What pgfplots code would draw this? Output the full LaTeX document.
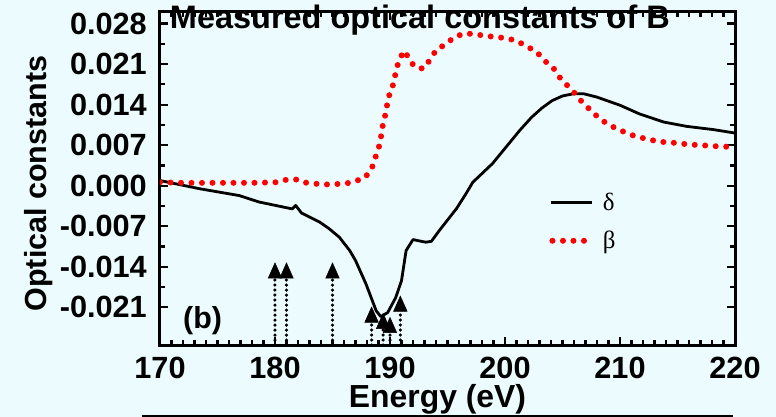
\documentclass[border=0pt]{standalone}
\usepackage{pgfplots}
\pgfplotsset{compat=1.18}
\usepackage{fontspec}
\setmainfont{Liberation Sans}
\newfontfamily\greekfont{Liberation Serif}
\usetikzlibrary{backgrounds}
\definecolor{bgc}{RGB}{236,251,253}
\definecolor{rd}{RGB}{255,0,0}
\newcommand{\tickfont}{\fontsize{30.8}{32}\selectfont\bfseries}
\pgfplotsset{
  deltaleg/.style={legend image code/.code={\draw[##1] (0bp,0bp) -- (41bp,0bp);}},
  betaleg/.style={legend image code/.code={\draw[##1] (1bp,0bp) -- (36bp,0bp);}},
  stem/.style={forget plot, black, line width=3.5bp, line cap=round, dash pattern=on 0bp off 5bp},
}
\begin{document}
\begin{tikzpicture}
\begin{axis}[
  name=ax,
  scale only axis, width=575bp, height=333bp,
  xmin=170, xmax=220, ymin=-0.0275, ymax=0.030,
  xtick={170,180,190,200,210,220},
  ytick={-0.021,-0.014,-0.007,0,0.007,0.014,0.021,0.028},
  minor x tick num=9, minor y tick num=1,
  tick align=inside,
  major tick length=8bp, minor tick length=5bp,
  tick style={black, line width=2.2bp},
  axis line style={line width=3bp},
  scaled y ticks=false,
  /pgf/number format/assume math mode=true,
  y tick label style={/pgf/number format/.cd, fixed, fixed zerofill, precision=3, /tikz/.cd},
  tick label style={font=\tickfont},
  yticklabel style={inner sep=0pt, xshift=-13bp},
  xticklabel style={inner sep=0pt, yshift=-12bp},
  xlabel={Energy (eV)}, ylabel={Optical constants},
  xlabel style={at={(axis description cs:0.4826,-0.189)}, anchor=base, font=\fontsize{32}{34}\selectfont\bfseries},
  ylabel style={at={(axis description cs:-0.197,0.485)}, anchor=base, font=\fontsize{30.6}{32}\selectfont\bfseries},
  title={Measured optical constants of B},
  title style={at={(axis description cs:0.017,0.931)}, anchor=base west, yshift=0pt, inner sep=0pt, font=\fontsize{32.6}{34}\selectfont\bfseries},
  legend style={at={(axis description cs:0.677,0.462)}, anchor=north west, draw=none, fill=none, inner sep=0pt,
     font=\fontsize{25}{27}\selectfont\greekfont, row sep=15bp, column sep=7bp, nodes={inner sep=2bp}},
  legend cell align=left,
]
\addplot[black, line width=2.8bp, line join=round, deltaleg] coordinates {
(170,0.0009) (173.4,-0.0005) (176.9,-0.0017) (178.6,-0.0028) (181.5,-0.0040) (181.8,-0.0034) (182.3,-0.0047) (183.9,-0.0063) (184.7,-0.0074) (185.6,-0.0089) (186.5,-0.0112) (187.0,-0.0129) (187.9,-0.0169) (188.8,-0.0216) (189.2,-0.0226) (189.8,-0.0219) (190.5,-0.0193) (191.0,-0.0164) (191.4,-0.0112) (192.0,-0.0093) (193.1,-0.00975) (193.6,-0.0096) (194.3,-0.0077) (195.8,-0.0039) (196.6,-0.0014) (197.2,0.0006) (198.9,0.0038) (200.1,0.0067) (201.3,0.0096) (202.3,0.0118) (203.2,0.0134) (204.1,0.0147) (205.0,0.0155) (206.0,0.0159) (206.8,0.0159) (208.0,0.0153) (210.0,0.0139) (211.7,0.0124) (213.8,0.0110) (215.8,0.01025) (218.1,0.0097) (220,0.0091)
};
\addlegendentry{δ}
\addplot[rd, line width=6bp, line cap=round, dash pattern=on 0bp off 10.5bp, betaleg] coordinates {
(170,0.0006) (172,0.0005) (174,0.0005) (176,0.0005) (178,0.0005) (180.1,0.0006) (180.9,0.0010) (181.8,0.0011) (182.4,0.0006) (184.2,0.0002) (186.1,0.00035) (186.9,0.00074) (187.8,0.00135) (188.4,0.0029) (188.7,0.0047) (189.0,0.0064) (189.2,0.0081) (189.3,0.0098) (189.5,0.0115) (189.7,0.0131) (189.8,0.0149) (190.1,0.0165) (190.4,0.0182) (190.5,0.0199) (190.8,0.0216) (191.2,0.0233) (191.6,0.0222) (192.1,0.0206) (192.9,0.0202) (193.5,0.0218) (194.0,0.0234) (194.8,0.0244) (195.5,0.0255) (196.4,0.0263) (197.3,0.0262) (198.2,0.0259) (199.1,0.0257) (200.0,0.0255) (200.9,0.0251) (201.9,0.0241) (202.8,0.0230) (203.5,0.0215) (204.3,0.0201) (204.9,0.0183) (205.8,0.0166) (206.5,0.0149) (207.2,0.0135) (208.0,0.0120) (208.8,0.0108) (209.7,0.00985) (210.6,0.0091) (211.5,0.0084) (212.4,0.0081) (213.3,0.0076) (214.3,0.0075) (215.2,0.0073) (216.1,0.0071) (217.1,0.0070) (218.0,0.00685) (219.7,0.0067) (220,0.0066)
};
\addlegendentry{β}
% arrow stems
\addplot[stem] coordinates {(180,-0.0275) (180,-0.0160)};
\addplot[stem] coordinates {(181,-0.0275) (181,-0.0160)};
\addplot[stem] coordinates {(185,-0.0275) (185,-0.0160)};
\addplot[stem] coordinates {(188.4,-0.0275) (188.4,-0.0235)};
\addplot[stem] coordinates {(189.4,-0.0275) (189.4,-0.0246)};
\addplot[stem] coordinates {(190.0,-0.0275) (190.0,-0.0253)};
\addplot[stem] coordinates {(190.9,-0.0275) (190.9,-0.0217)};
% arrow heads
\addplot[forget plot, only marks, mark=triangle*, mark size=7.8bp, mark options={yscale=1.3, fill=black, draw=black, line width=0.5bp}] coordinates {
(180,-0.01507) (181,-0.01507) (185,-0.01507) (188.4,-0.0227) (189.4,-0.0238) (190.0,-0.0245) (190.9,-0.0208)
};
\node[anchor=base west, inner sep=0pt, font=\fontsize{30.5}{32}\selectfont\bfseries] at (axis description cs:0.04,0.051) {(b)};
\end{axis}
\begin{scope}[on background layer]
\fill[bgc] ([shift={(-160bp,-72bp)}]ax.south west) rectangle ([shift={(41bp,12bp)}]ax.north east);
\end{scope}
\draw[line width=3bp] ([shift={(-18bp,-71bp)}]ax.south west) -- ([shift={(-2bp,-71bp)}]ax.south east);
\pgfresetboundingbox
\path ([shift={(-160bp,-72bp)}]ax.south west) rectangle ([shift={(41bp,12bp)}]ax.north east);
\end{tikzpicture}
\end{document}
